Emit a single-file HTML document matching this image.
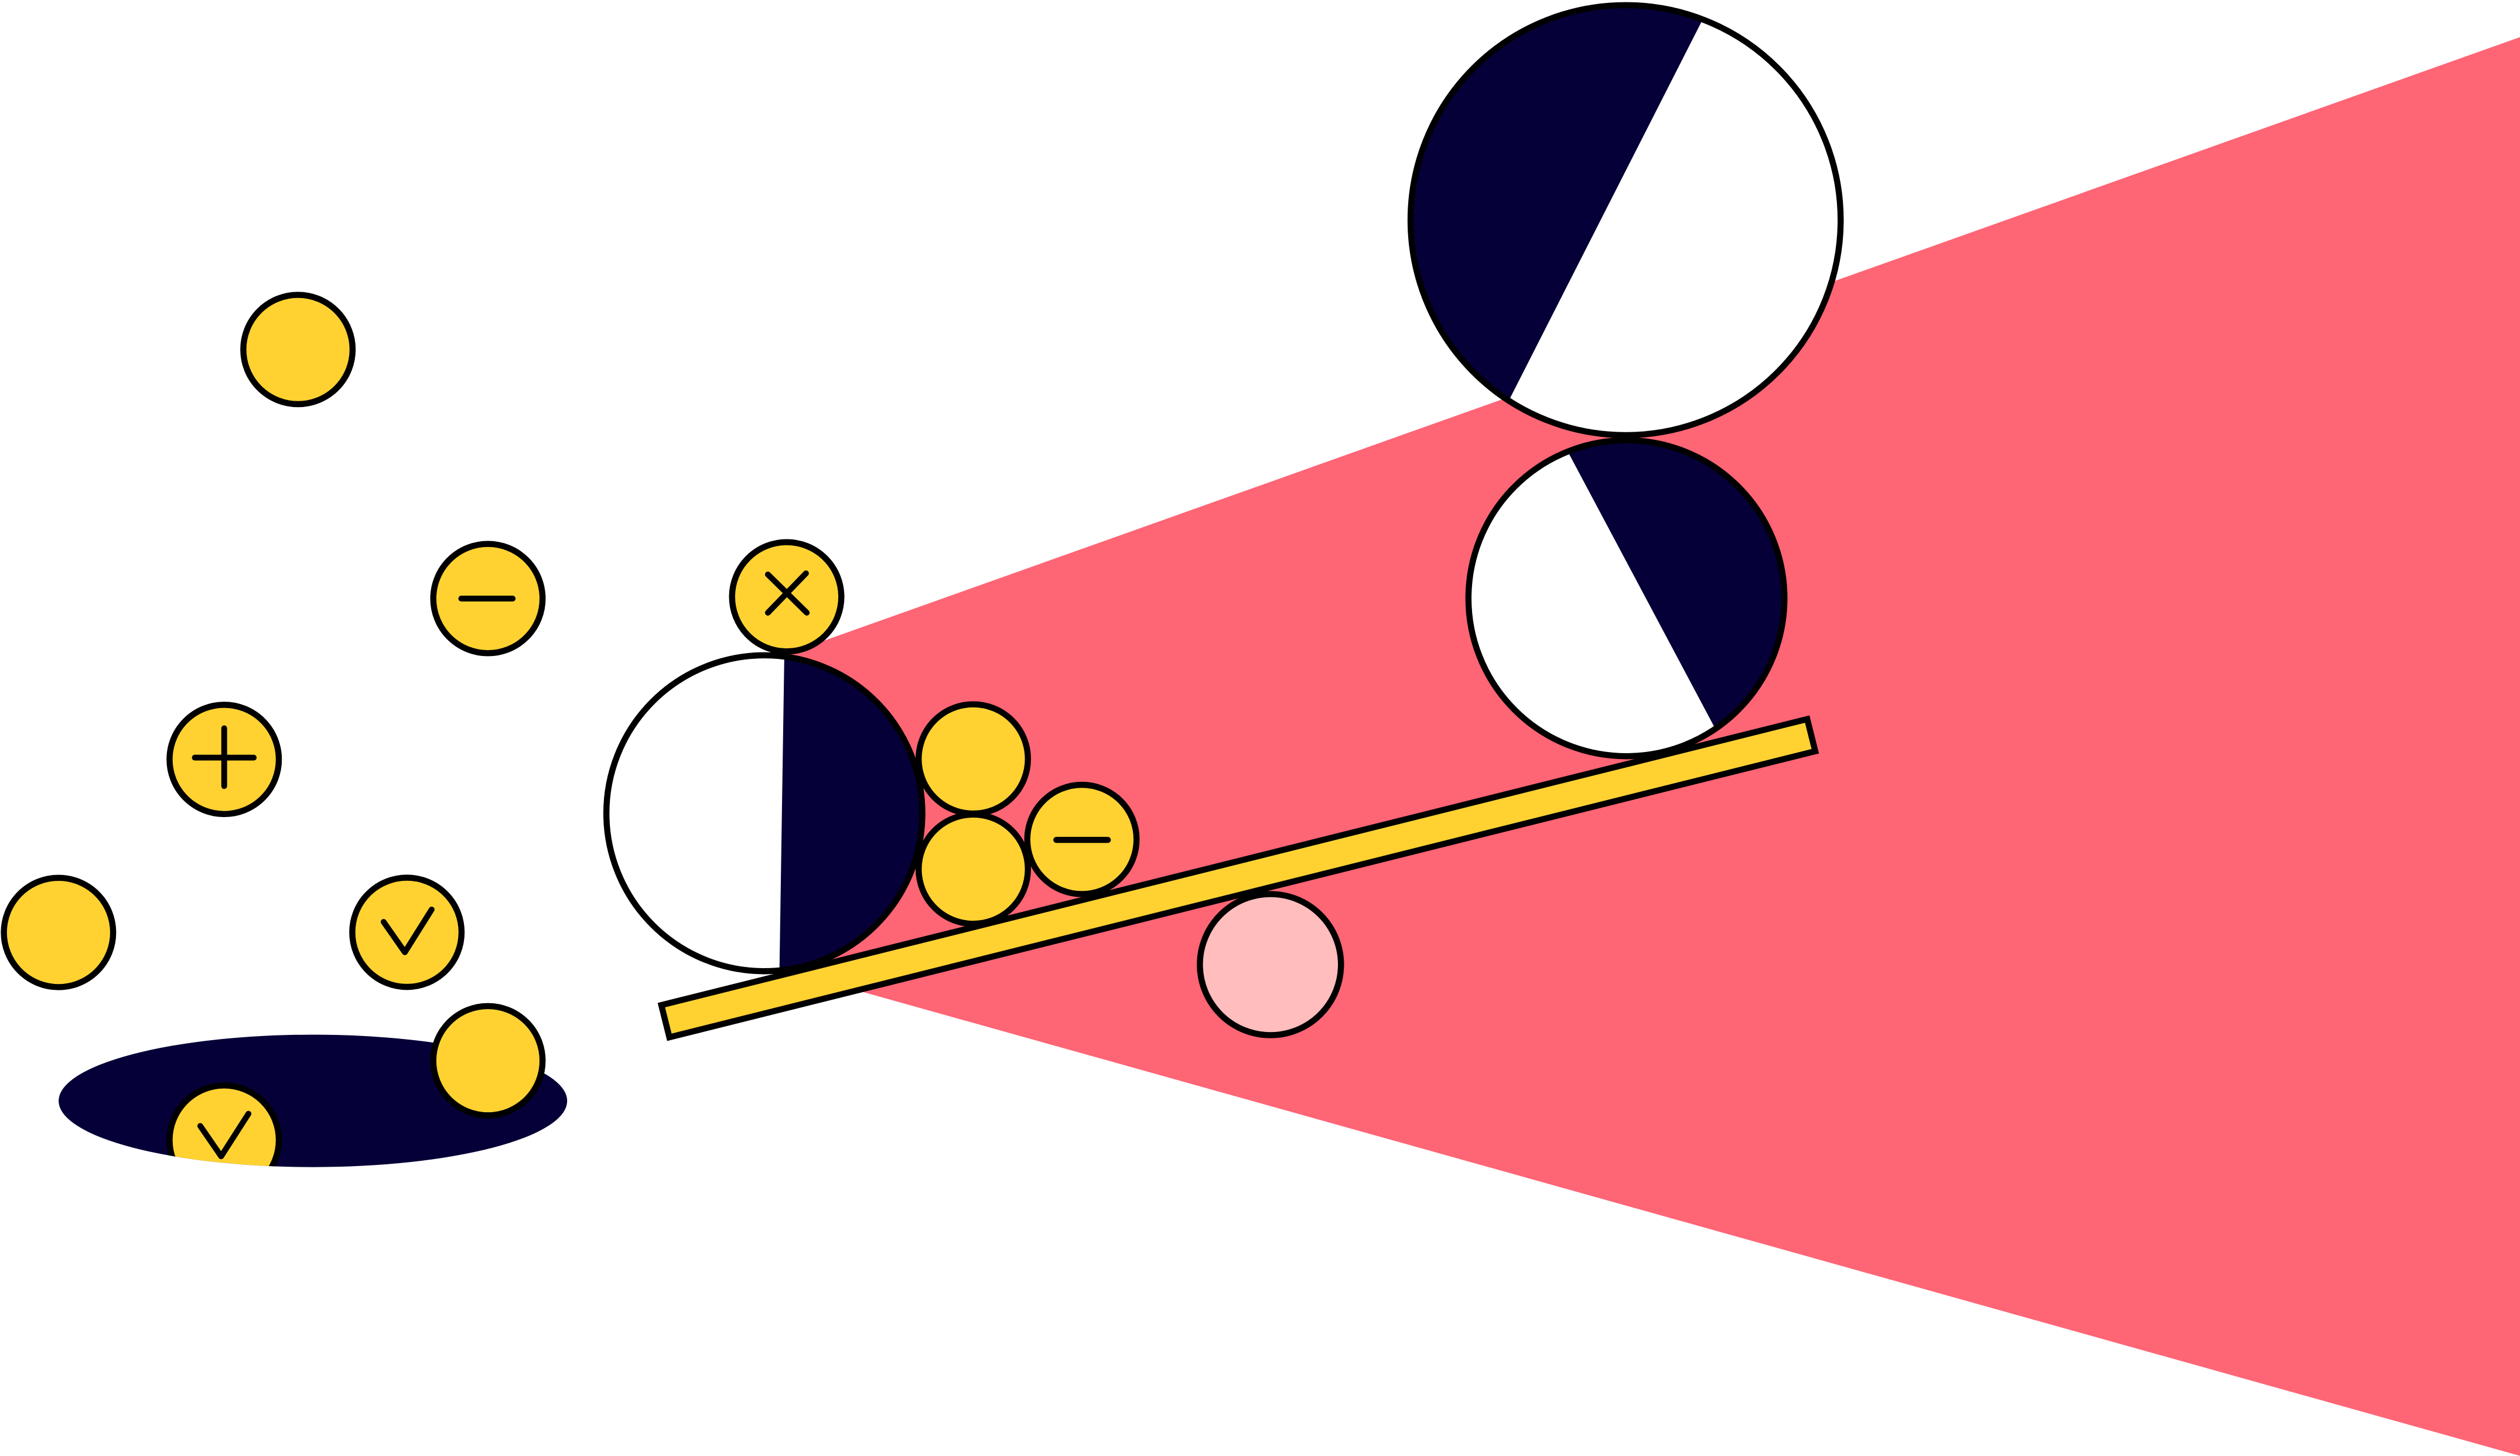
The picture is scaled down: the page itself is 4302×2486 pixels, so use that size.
<!DOCTYPE html>
<html>
<head>
<meta charset="utf-8">
<style>
  html, body { margin: 0; padding: 0; background: #ffffff; }
  body { width: 4302px; height: 2486px; overflow: hidden; }
  svg { display: block; }
</style>
</head>
<body>
<svg width="4302" height="2486" viewBox="0 0 1568 906.1" preserveAspectRatio="none" xmlns="http://www.w3.org/2000/svg">
  <defs>
    <clipPath id="ellClip">
      <ellipse cx="194.7" cy="685.1" rx="158.2" ry="41.2"/>
    </clipPath>
    <clipPath id="cLeft">
      <circle cx="475.6" cy="506.1" r="98.3"/>
    </clipPath>
    <clipPath id="cTop">
      <circle cx="1011.5" cy="137" r="133.8"/>
    </clipPath>
    <clipPath id="cMid">
      <circle cx="1012" cy="372.3" r="98.3"/>
    </clipPath>
  </defs>

  <!-- red wedge -->
  <polygon points="485,408.6 1568,23.1 1568,906 485,602.8" fill="#FE6575"/>

  <!-- dark ellipse -->
  <ellipse cx="194.7" cy="685.1" rx="158.2" ry="41.2" fill="#050037"/>

  <!-- clipped check coin in ellipse -->
  <g clip-path="url(#ellClip)">
    <circle cx="139.5" cy="709.5" r="34" fill="#FFD231" stroke="#000" stroke-width="3.8"/>
    <polyline points="124.6,700.7 137.6,719.6 154.6,693.1" fill="none" stroke="#000" stroke-width="3.6" stroke-linecap="round" stroke-linejoin="round"/>
  </g>

  <g stroke="#000" stroke-width="3.8">
    <!-- yellow on ellipse -->
    <circle cx="303.6" cy="660.1" r="34" fill="#FFD231"/>
    <!-- top plain -->
    <circle cx="185.4" cy="217.5" r="34" fill="#FFD231"/>
    <!-- minus -->
    <circle cx="303.6" cy="372.5" r="34" fill="#FFD231"/>
    <!-- plus -->
    <circle cx="139.5" cy="472.6" r="34" fill="#FFD231"/>
    <!-- plain left -->
    <circle cx="36.4" cy="580.3" r="34" fill="#FFD231"/>
    <!-- check -->
    <circle cx="253.2" cy="580.2" r="34" fill="#FFD231"/>
  </g>
  <g fill="none" stroke="#000" stroke-width="3.6" stroke-linecap="round" stroke-linejoin="round">
    <line x1="287" y1="372.5" x2="319" y2="372.5"/>
    <line x1="121.2" y1="471.5" x2="157.9" y2="471.5"/>
    <line x1="139.5" y1="453.2" x2="139.5" y2="489.2"/>
    <polyline points="238.7,573.7 251.9,592.6 268.6,566"/>
  </g>

  <!-- big left half circle -->
  <circle cx="475.6" cy="506.1" r="98.3" fill="#ffffff"/>
  <g clip-path="url(#cLeft)">
    <polygon points="488.14,400 600,400 600,620 484.75,620" fill="#050037"/>
  </g>
  <circle cx="475.6" cy="506.1" r="98.3" fill="none" stroke="#000" stroke-width="3.8"/>

  <!-- X coin -->
  <circle cx="489.5" cy="371.4" r="34" fill="#FFD231" stroke="#000" stroke-width="3.8"/>
  <g fill="none" stroke="#000" stroke-width="3.6" stroke-linecap="round">
    <line x1="477.8" y1="357.5" x2="502" y2="381.3"/>
    <line x1="501.5" y1="356.8" x2="477.8" y2="381.3"/>
  </g>

  <!-- stack coins -->
  <g stroke="#000" stroke-width="3.8">
    <circle cx="605.6" cy="472.3" r="34" fill="#FFD231"/>
    <circle cx="605.6" cy="540.9" r="34" fill="#FFD231"/>
    <circle cx="673.2" cy="522.4" r="34" fill="#FFD231"/>
  </g>
  <line x1="657.3" y1="522.7" x2="689.3" y2="522.7" stroke="#000" stroke-width="3.8" stroke-linecap="round"/>

  <!-- top big circle -->
  <circle cx="1011.5" cy="137" r="133.8" fill="#ffffff"/>
  <g clip-path="url(#cTop)">
    <polygon points="860,0 1065.6,0 923.2,280 860,280" fill="#050037"/>
  </g>
  <circle cx="1011.5" cy="137" r="133.8" fill="none" stroke="#000" stroke-width="3.8"/>

  <!-- middle circle -->
  <circle cx="1012" cy="372.3" r="98.3" fill="#ffffff"/>
  <g clip-path="url(#cMid)">
    <polygon points="967,265 1120,265 1120,480 1081.4,480" fill="#050037"/>
  </g>
  <circle cx="1012" cy="372.3" r="98.3" fill="none" stroke="#000" stroke-width="3.8"/>

  <!-- pink circle -->
  <circle cx="790.5" cy="600.3" r="43.9" fill="#FFBDBD" stroke="#000" stroke-width="3.8"/>

  <!-- bar -->
  <polygon points="411.5,625.5 1124.5,447.5 1129.5,467.5 416.5,645.5" fill="#FFD231" stroke="#000" stroke-width="3.8" stroke-linejoin="miter"/>
</svg>
</body>
</html>
